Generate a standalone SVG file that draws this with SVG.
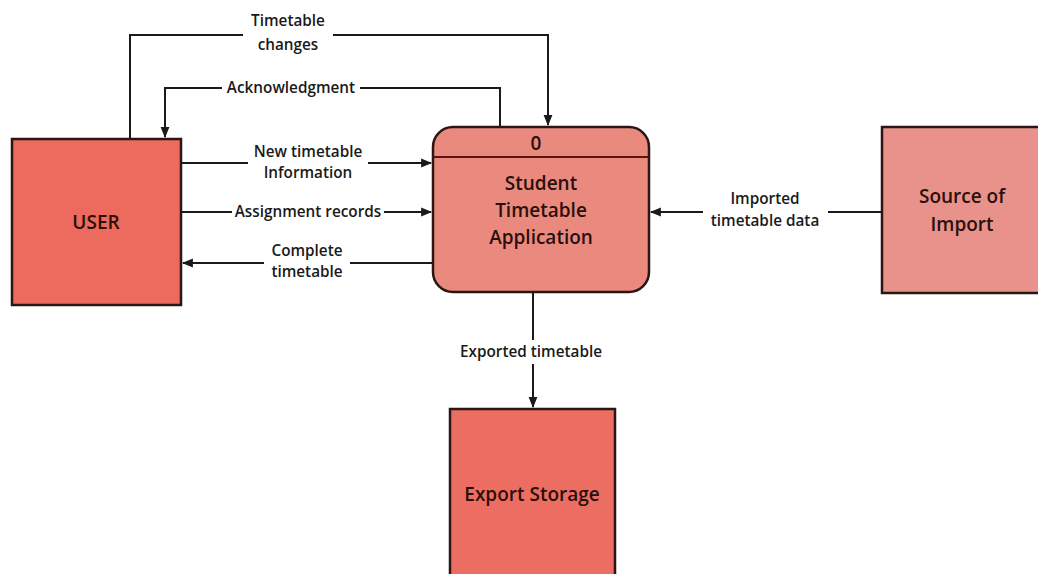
<svg xmlns="http://www.w3.org/2000/svg" width="1038" height="574" viewBox="0 0 1038 574">
<defs>
<style>
.lbl{font-family:"Open Sans","Liberation Sans",sans-serif;font-size:15.3px;font-weight:600;fill:#1a1a1a;text-anchor:middle}
.nd{font-family:"Open Sans","Liberation Sans",sans-serif;font-size:19px;font-weight:600;fill:#2a0f0c;text-anchor:middle}
.ln{fill:none;stroke:#1a1a1a;stroke-width:2}
.box{stroke:#2a1612;stroke-width:2.5}
</style>
<marker id="ah" viewBox="0 0 10 10" refX="9" refY="5" markerWidth="13" markerHeight="11" markerUnits="userSpaceOnUse" orient="auto-start-reverse">
<path d="M0,1 L10,5 L0,9 z" fill="#1a1a1a"/>
</marker>
</defs>
<rect width="1038" height="574" fill="#ffffff"/>
<g id="connectors">
<path class="ln" d="M130,139 V35 H243 M333,35 H548 V125" marker-end="url(#ah)"/>
<path class="ln" d="M500,127 V88 H360 M222,88 H165 V137" marker-end="url(#ah)"/>
<path class="ln" d="M181,163 H248 M368,163 H431" marker-end="url(#ah)"/>
<path class="ln" d="M181,212 H232 M384,212 H431" marker-end="url(#ah)"/>
<path class="ln" d="M433,263 H350 M264,263 H183" marker-end="url(#ah)"/>
<path class="ln" d="M882,212 H828 M703,212 H651" marker-end="url(#ah)"/>
<path class="ln" d="M533,292 V340 M533,364 V407" marker-end="url(#ah)"/>
<text class="lbl" x="288" y="26">Timetable</text>
<text class="lbl" x="288" y="50">changes</text>
<text class="lbl" x="291" y="93">Acknowledgment</text>
<text class="lbl" x="308" y="157">New timetable</text>
<text class="lbl" x="308" y="178">Information</text>
<text class="lbl" x="308" y="217">Assignment records</text>
<text class="lbl" x="307" y="256">Complete</text>
<text class="lbl" x="307" y="277">timetable</text>
<text class="lbl" x="765" y="204">Imported</text>
<text class="lbl" x="765" y="226">timetable data</text>
<text class="lbl" x="531" y="357">Exported timetable</text>
</g>
<g id="user">
<rect class="box" x="12" y="139" width="169" height="166" fill="#ec6a5e"/>
<text class="nd" x="96" y="229">USER</text>
</g>
<g id="process">
<rect class="box" x="433" y="127" width="216" height="165" rx="20" fill="#ea8a7f"/>
<line x1="433" y1="157" x2="649" y2="157" stroke="#5a1510" stroke-width="2"/>
<text class="nd" x="536" y="150">0</text>
<text class="nd" x="541" y="190">Student</text>
<text class="nd" x="541" y="217">Timetable</text>
<text class="nd" x="541" y="244">Application</text>
</g>
<g id="source">
<rect class="box" x="882" y="127" width="170" height="166" fill="#e8928b"/>
<text class="nd" x="962" y="203" fill="#4a1e1a">Source of</text>
<text class="nd" x="962" y="231" fill="#4a1e1a">Import</text>
</g>
<g id="export">
<rect class="box" x="450" y="409" width="165" height="175" fill="#ec6e62"/>
<text class="nd" x="532" y="501">Export Storage</text>
</g>
</svg>
